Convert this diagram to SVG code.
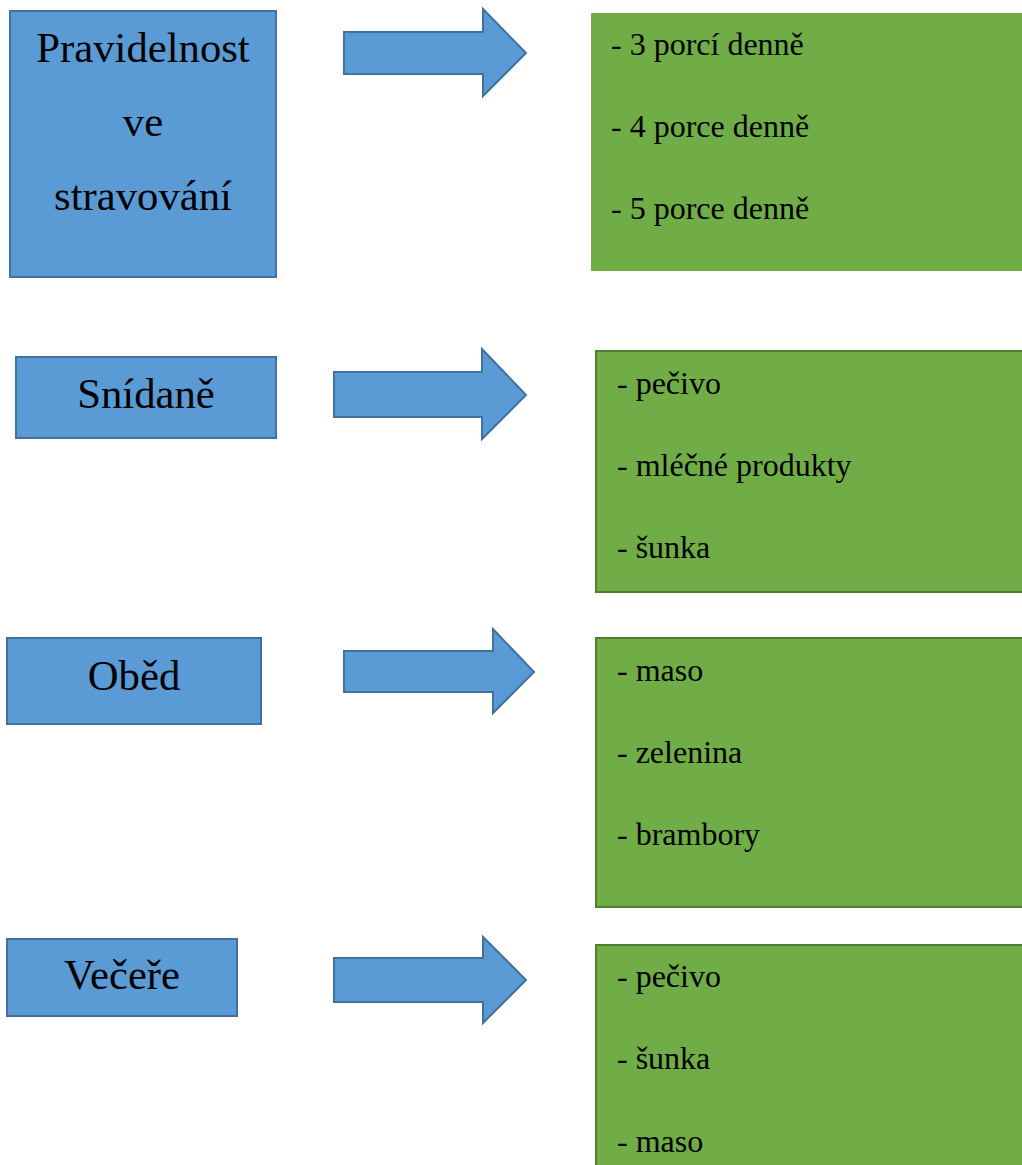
<svg xmlns="http://www.w3.org/2000/svg" width="1022" height="1165" viewBox="0 0 1022 1165">
<style>
.blue{fill:#5B9BD5;stroke:#41719C;stroke-width:2}
.green{fill:#70AD47;stroke:#507E32;stroke-width:2}
.arrow{fill:#5B9BD5;stroke:#41719C;stroke-width:2;stroke-linejoin:miter}
.lbl{font-family:"Liberation Serif","Times New Roman",serif;font-size:42.7px;fill:#000;text-anchor:middle}
.item{font-family:"Liberation Serif","Times New Roman",serif;font-size:32px;fill:#000}
</style>
<rect width="1022" height="1165" fill="#fff"/>
<g id="node-pravidelnost">
<rect class="blue" x="10" y="11" width="266" height="266"/>
<text class="lbl" x="143" y="62">Pravidelnost</text>
<text class="lbl" x="143" y="136">ve</text>
<text class="lbl" x="143" y="210">stravování</text>
</g>
<g id="node-snidane">
<rect class="blue" x="16" y="357" width="260" height="81"/>
<text class="lbl" x="146" y="408">Snídaně</text>
</g>
<g id="node-obed">
<rect class="blue" x="7" y="638" width="254" height="86"/>
<text class="lbl" x="134" y="690">Oběd</text>
</g>
<g id="node-vecere">
<rect class="blue" x="7" y="939" width="230" height="77"/>
<text class="lbl" x="122" y="989">Večeře</text>
</g>
<g id="node-porce">
<rect x="591" y="13" width="440" height="258" fill="#70AD47"/>
<text class="item" x="611" y="55">- 3 porcí denně</text>
<text class="item" x="611" y="137">- 4 porce denně</text>
<text class="item" x="611" y="219">- 5 porce denně</text>
</g>
<g id="node-snidane-list">
<rect class="green" x="596" y="351" width="436" height="241"/>
<text class="item" x="617" y="394">- pečivo</text>
<text class="item" x="617" y="476">- mléčné produkty</text>
<text class="item" x="617" y="558">- šunka</text>
</g>
<g id="node-obed-list">
<rect class="green" x="596" y="638" width="436" height="269"/>
<text class="item" x="617" y="681">- maso</text>
<text class="item" x="617" y="763">- zelenina</text>
<text class="item" x="617" y="845">- brambory</text>
</g>
<g id="node-vecere-list">
<rect class="green" x="596" y="945" width="436" height="240"/>
<text class="item" x="617" y="987">- pečivo</text>
<text class="item" x="617" y="1069">- šunka</text>
<text class="item" x="617" y="1152">- maso</text>
</g>
<g id="connectors">
<polygon class="arrow" points="344,32 483,32 483,9 526,53 483,96 483,74 344,74"/>
<polygon class="arrow" points="334,372 482,372 482,349 526,395 482,439 482,417 334,417"/>
<polygon class="arrow" points="344,651 493,651 493,629 534,672 493,713 493,692 344,692"/>
<polygon class="arrow" points="334,958 483,958 483,937 526,980 483,1023 483,1002 334,1002"/>
</g>
</svg>
